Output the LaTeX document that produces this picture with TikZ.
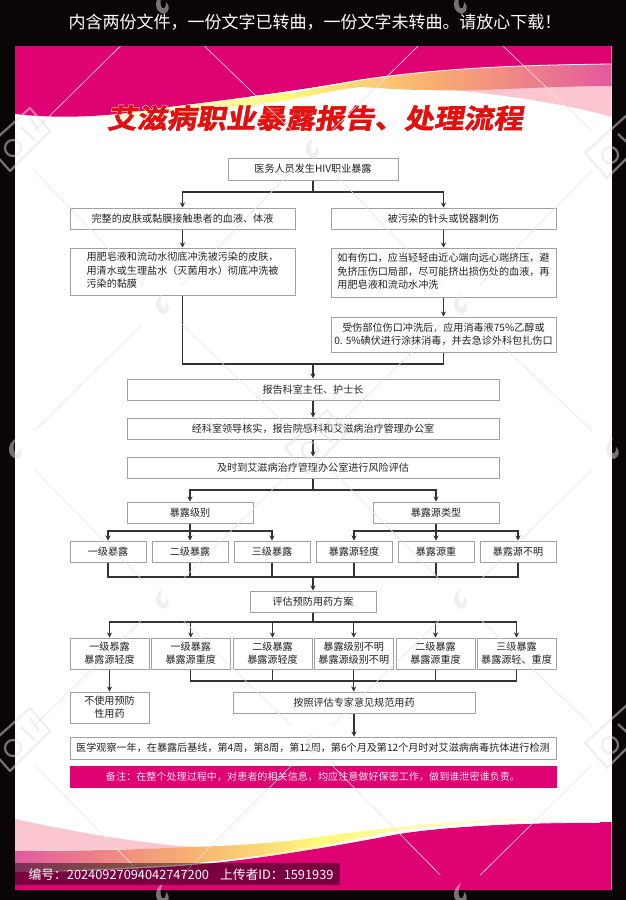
\documentclass[tikz,border=0pt]{standalone}
\usepackage{fontspec}
\usetikzlibrary{arrows.meta}
\setmainfont{Noto Sans CJK SC}
\newfontfamily\titlefont[FakeSlant=0.18,FakeBold=2,FakeStretch=1.1]{Noto Sans CJK SC Bold}
\newfontfamily\titleback[FakeSlant=0.18,FakeBold=5,FakeStretch=1.1]{Noto Sans CJK SC Bold}
\definecolor{bgblack}{HTML}{0A0506}
\definecolor{rose}{HTML}{DF0273}
\definecolor{linecol}{HTML}{333333}
\definecolor{boxcol}{HTML}{A0A0A0}
\definecolor{lightp}{HTML}{FBC6CF}
\definecolor{sw2}{HTML}{FFF97A}
\definecolor{sw3}{HTML}{F8B070}
\definecolor{sw5}{HTML}{E4589F}
\definecolor{txt}{HTML}{222222}
\definecolor{titlered}{HTML}{E2100F}
\definecolor{wmcol}{HTML}{E0E0E0}
\tikzset{
  boxs/.style={draw=boxcol,line width=1pt,fill=white,inner sep=0pt,font=\fontsize{10.1}{13.2}\selectfont,text=txt,align=center},
  flow/.style={draw=linecol,line width=1.15pt},
  arr/.style={flow,-{Stealth[length=5pt,width=5pt]}},
  wmline/.style={draw=black!10,line width=0.6pt,shorten >=28pt,shorten <=28pt},
  wmshape/.style={fill=wmcol,opacity=0.5},
  wmstroke/.style={draw=wmcol,opacity=0.5,line width=2.2pt,line join=round}
}
\newcommand{\bx}[5]{\node[boxs,minimum width={(#3-#1)*1pt},minimum height={(#4-#2)*1pt},#5] at ({(#1+#3)/2},{(#2+#4)/2})}
\newcommand{\flamemark}[2]{\begin{scope}[shift={(#1,#2)}]
  \fill[wmshape] (1,-12) .. controls (-10,-4) and (-7,7) .. (2,9) .. controls (8,7) and (8,0) .. (4,-3) .. controls (4,2) and (3,4) .. (0,3) .. controls (-3,-2) and (-1,-7) .. (1,-12) -- cycle;
\end{scope}}
\newcommand{\bigmark}[2]{\begin{scope}[shift={(#1,#2)}]
  \draw[wmstroke] (15,-35) -- (35,-12) -- (-5,28) -- (-27,3) -- cycle (-2,5) circle (8) (15,-25) -- (24,-12) (6,-16) -- (20,-3);
\end{scope}}
\begin{document}
\begin{tikzpicture}[x=1pt,y=-1pt]
\useasboundingbox (0,0) rectangle (626,900);
\fill[bgblack] (0,0) rectangle (626,900);
\fill[white] (15,46) rectangle (611.5,890);
% top band
\fill[lightp] (430,88) .. controls (490,93) and (560,102) .. (611.5,117) -- (611.5,85) -- cycle;
\shade[left color=white,right color=sw2] (40,117) .. controls (90,117) and (170,108) .. (290,92) -- (290,100) .. controls (210,111) and (150,118) .. (108,118) -- cycle;
\shade[left color=sw2,right color=sw3] (288,94) .. controls (320,87) and (380,76) .. (430,72) -- (430,90) .. controls (400,90) and (380,88) .. (360,87) .. controls (335,90) and (310,96) .. (288,100) -- cycle;
\shade[left color=sw3,right color=sw5] (429,72) .. controls (470,67) and (540,65) .. (611.5,64) -- (611.5,86) .. controls (540,86) and (480,92) .. (429,90) -- cycle;
\fill[rose] (15,46) -- (611.5,46) -- (611.5,64) .. controls (520,65) and (440,68) .. (360,80) .. controls (290,92) and (210,102) .. (160,108) .. controls (110,117) and (60,119) .. (15,114) -- cycle;
\draw[white,line width=0.8pt] (611.5,64) .. controls (520,65) and (440,68) .. (360,80) .. controls (320,87) and (290,92) .. (250,97);
% bottom band
\fill[lightp] (15,819) .. controls (70,831) and (130,842) .. (200,848) -- (15,851) -- cycle;
\shade[left color=sw2,right color=white] (319,837) .. controls (400,825) and (500,817) .. (595,817) .. controls (520,820) and (440,824) .. (390,832) .. controls (360,838) and (340,843) .. (319,848) -- cycle;
\shade[left color=sw3,right color=sw2] (190,847) .. controls (230,846) and (280,843) .. (319,837) -- (319,848) .. controls (280,855) and (240,859) .. (190,864) -- cycle;
\shade[left color=sw5,right color=sw3] (15,851) .. controls (90,851) and (150,849) .. (190,847) -- (190,864) .. controls (130,868) and (60,871) .. (15,872) -- cycle;
\fill[rose] (611.5,822) .. controls (530,822) and (450,826) .. (399,834) .. controls (340,845) and (260,860) .. (180,866) .. controls (120,870) and (60,872) .. (15,872) -- (15,890) -- (611.5,890) -- cycle;
\draw[white,line width=0.8pt] (600,822.5) .. controls (530,822) and (450,826) .. (399,832) .. controls (340,843) and (260,858) .. (200,863);
% header text
\node[white,font=\fontsize{17}{19}\selectfont] (hdr) at (315,22) {内含两份文件，一份文字已转曲，一份文字未转曲。请放心下载！};
% title
\node[font=\fontsize{27}{30}\titleback,text=white] (titleb) at (315,118) {艾滋病职业暴露报告、处理流程};
\node[font=\fontsize{27}{30}\titlefont,text=titlered] (title) at (315,118) {艾滋病职业暴露报告、处理流程};
% coordinates for trunks
\coordinate (t1) at (313,192);
\coordinate (t2) at (313,364);
\coordinate (t3) at (313,490);
\coordinate (t4l) at (190,531);
\coordinate (t4r) at (436,531);
\coordinate (t5) at (313,577);
\coordinate (t6) at (313,622);
\coordinate (t7) at (354,681);
% boxes
\bx{228}{158}{398}{180}{}(top){医务人员发生HIV职业暴露};
\bx{70}{208}{295}{229}{}(la){完整的皮肤或黏膜接触患者的血液、体液};
\bx{331}{208}{556}{229}{}(ra){被污染的针头或锐器刺伤};
\bx{70}{248}{295}{295}{}(lb){\begin{tabular}{@{}l@{}}用肥皂液和流动水彻底冲洗被污染的皮肤，\\用清水或生理盐水（灭菌用水）彻底冲洗被\\污染的黏膜\end{tabular}};
\bx{331}{248}{556}{297}{}(rb){\begin{tabular}{@{}l@{}}如有伤口，应当轻轻由近心端向远心端挤压，避\\免挤压伤口局部，尽可能挤出损伤处的血液，再\\用肥皂液和流动水冲洗\end{tabular}};
\bx{331}{317}{556}{352}{}(rc){受伤部位伤口冲洗后，应用消毒液75\%乙醇或\\0. 5\%碘伏进行涂抹消毒，并去急诊外科包扎伤口};
\bx{127}{379}{499}{400}{}(rep){报告科室主任、护士长};
\bx{127}{418}{499}{439}{}(ver){经科室领导核实，报告院感科和艾滋病治疗管理办公室};
\bx{127}{457}{499}{478}{}(risk){及时到艾滋病治疗管理办公室进行风险评估};
\bx{127}{502}{253}{523}{}(lev){暴露级别};
\bx{373}{502}{499}{523}{}(src){暴露源类型};
\bx{70}{541}{146}{562}{}(l1){一级暴露};
\bx{152}{541}{228}{562}{}(l2){二级暴露};
\bx{234}{541}{310}{562}{}(l3){三级暴露};
\bx{316}{541}{392}{562}{}(s1){暴露源轻度};
\bx{398}{541}{474}{562}{}(s2){暴露源重};
\bx{480}{541}{556}{562}{}(s3){暴露源不明};
\bx{250}{591}{376}{612}{}(eval){评估预防用药方案};
\bx{70}{638}{149}{669}{}(c1){一级暴露\\暴露源轻度};
\bx{151.5}{638}{230}{669}{}(c2){一级暴露\\暴露源重度};
\bx{233}{638}{312}{669}{}(c3){二级暴露\\暴露源轻度};
\bx{314.5}{638}{393}{669}{}(c4){暴露级别不明\\暴露源级别不明};
\bx{396}{638}{475}{669}{}(c5){二级暴露\\暴露源重度};
\bx{477}{638}{556}{669}{}(c6){三级暴露\\暴露源轻、重度};
\bx{70}{692}{149}{723}{}(nomed){不使用预防\\性用药};
\bx{233}{692}{475}{713}{}(med){按照评估专家意见规范用药};
\bx{70}{737}{556}{759}{}(obs){医学观察一年，在暴露后基线，第4周，第8周，第12周，第6个月及第12个月时对艾滋病病毒抗体进行检测};
\bx{70}{766}{556}{787}{fill=rose,draw=rose,text=white!90!rose}(note){备注：在整个处理过程中，对患者的相关信息，均应注意做好保密工作，做到谁泄密谁负责。};
% connectors
\draw[flow] (top.south) -- (t1);
\draw[arr] (t1) -| (la.north);
\draw[arr] (t1) -| (ra.north);
\draw[arr] (la.south) -- (lb.north);
\draw[arr] (ra.south) -- (rb.north);
\draw[arr] (rb.south) -- (rc.north);
\draw[flow] (lb.south) |- (t2);
\draw[flow] (rc.south) |- (t2);
\draw[arr] (t2) -- (rep.north);
\draw[arr] (rep.south) -- (ver.north);
\draw[arr] (ver.south) -- (risk.north);
\draw[flow] (risk.south) -- (t3);
\draw[arr] (t3) -| (lev.north);
\draw[arr] (t3) -| (src.north);
\draw[flow] (lev.south) -- (t4l);
\draw[arr] (t4l) -| (l1.north);
\draw[arr] (t4l) -- (l2.north);
\draw[arr] (t4l) -| (l3.north);
\draw[flow] (src.south) -- (t4r);
\draw[arr] (t4r) -| (s1.north);
\draw[arr] (t4r) -- (s2.north);
\draw[arr] (t4r) -| (s3.north);
\foreach \n in {l1,l2,l3,s1,s2,s3} {\draw[flow] (\n.south) |- (t5);}
\draw[arr] (t5) -- (eval.north);
\draw[flow] (eval.south) -- (t6);
\foreach \n in {c1,c2,c3,c4,c5,c6} {\draw[arr] (t6) -| (\n.north);}
\draw[arr] (c1.south) -- (nomed.north);
\foreach \n in {c2,c3,c5,c6} {\draw[flow] (\n.south) |- (t7);}
\draw[arr] (c4.south) -- (c4.south |- med.north);
\draw[arr] (med.south) -- (med.south |- obs.north);
% watermark lattice
\begin{scope}
\clip (15,46) rectangle (611.5,890);
\foreach \xa/\ya/\xb/\yb in {
 15/150/162/5, 162/5/312/150, 312/150/460/5, 460/5/612/150,
 15/150/162/305, 162/305/312/150, 312/150/460/305, 460/305/612/150,
 15/450/162/305, 162/305/312/450, 312/450/460/305, 460/305/612/450,
 15/450/162/600, 162/600/312/450, 312/450/460/600, 460/600/612/450,
 15/745/162/600, 162/600/312/745, 312/745/460/600, 460/600/612/745,
 15/745/162/895, 162/895/312/745, 312/745/460/895, 460/895/612/745}
 {\draw[wmline] (\xa,\ya) -- (\xb,\yb);}
\end{scope}
\foreach \fx/\fy in {162/5,460/5,312/150,162/305,460/305,15/450,612/450,162/600,460/600,312/745,162/895,460/895}
 {\flamemark{\fx}{\fy}}
\foreach \fx/\fy in {15/143,612/150,312/445,15/743,612/740}
 {\bigmark{\fx}{\fy}}
% footer strip
\fill[black,opacity=0.45] (15,863) rectangle (340,885);
\node[white,anchor=west,font=\fontsize{12.8}{15}\selectfont] (foot) at (25,875) {编号：20240927094042747200\hspace{11pt}上传者ID：1591939};
\end{tikzpicture}
\end{document}
